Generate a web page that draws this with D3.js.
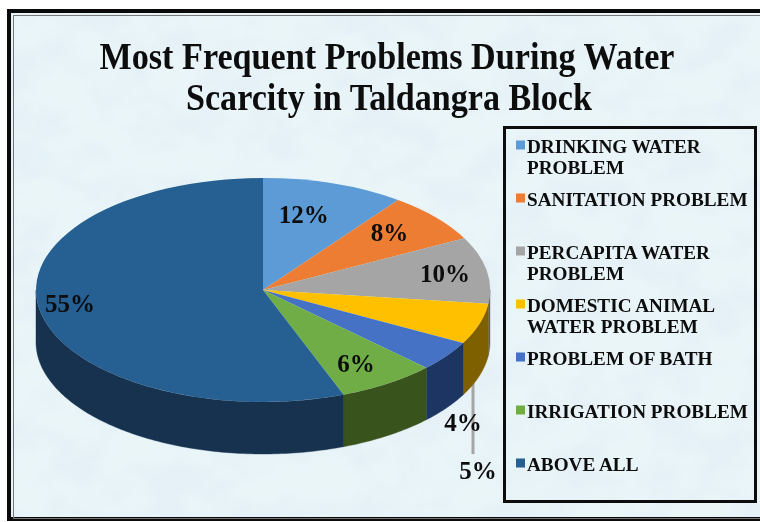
<!DOCTYPE html>
<html><head><meta charset="utf-8">
<script src="https://cdn.jsdelivr.net/npm/d3@7"></script>
<style>html,body{margin:0;padding:0;background:#fff}svg{display:block}text{font-family:"Liberation Serif",serif;fill:#0d0d0d}</style>
</head><body><svg id="c" width="760" height="522"></svg>
<script>
const titleLines = ["Most Frequent Problems During Water", "Scarcity in Taldangra Block"];
const categories = ["DRINKING WATER PROBLEM","SANITATION PROBLEM","PERCAPITA WATER PROBLEM","DOMESTIC ANIMAL WATER PROBLEM","PROBLEM OF BATH","IRRIGATION PROBLEM","ABOVE ALL"];
const legendLines = [["DRINKING WATER","PROBLEM"],["SANITATION PROBLEM"],["PERCAPITA WATER","PROBLEM"],["DOMESTIC ANIMAL","WATER PROBLEM"],["PROBLEM OF BATH"],["IRRIGATION PROBLEM"],["ABOVE ALL"]];
// Printed data labels
const labelValues = [12, 8, 10, 5, 4, 6, 55];
// Slice sizes as actually drawn in the picture (degrees of sweep read from the slice edges)
const drawnSweep = [36.5, 26, 34.5, 21.2, 15.8, 25.2, 200.8];
const colors = ["#5b9bd5","#ed7d31","#a5a5a5","#ffc000","#4472c4","#70ad47","#255e91"];
const rimColors = ["#2e5d85","#8a4a1c","#5f5f5f","#7f6000","#1f3564","#37521f","#14304f"];
const labelOffsets = [[-2,-11],[23,-13],[48,-4],[0,0],[90,93],[18,18],[-59,2]];

const W=760,H=522, cx=263, cy=290, rx=227, ry=112, depth=52;
const svg=d3.select("#c");
const defs=svg.append("defs");
const f=defs.append("filter").attr("id","tex").attr("x",0).attr("y",0).attr("width","100%").attr("height","100%");
f.append("feTurbulence").attr("type","fractalNoise").attr("baseFrequency","0.02 0.028").attr("numOctaves",4).attr("seed",7);
f.append("feColorMatrix").attr("type","matrix").attr("values","0 0 0 0 0.78  0 0 0 0 0.88  0 0 0 0 0.93  3.2 0 0 0 -1.25");
defs.append("filter").attr("id","soft").append("feGaussianBlur").attr("stdDeviation",0.45);

// frame and background
svg.append("rect").attr("width",W).attr("height",H).attr("fill","#fff");
svg.append("rect").attr("x",9).attr("y",11).attr("width",751).attr("height",508).attr("fill","#eaf5f8");
svg.append("rect").attr("x",9).attr("y",11).attr("width",751).attr("height",508).attr("filter","url(#tex)");
svg.append("rect").attr("x",9).attr("y",11).attr("width",760).attr("height",508).attr("fill","none").attr("stroke","#0a0a0a").attr("stroke-width",4);
svg.append("rect").attr("x",13.5).attr("y",15.5).attr("width",760).attr("height",503).attr("fill","none").attr("stroke","#777").attr("stroke-width",1);

const root=svg.append("g").attr("filter","url(#soft)");
const title=root.append("g");
titleLines.forEach((t,i)=>title.append("text").attr("x",i?389:387).attr("y",69+i*41).attr("text-anchor","middle").attr("font-size",37).attr("font-weight",700).attr("textLength",i?406:575).attr("lengthAdjust","spacingAndGlyphs").text(t));

// pie
const pie=d3.pie().sort(null).value(d=>d)(drawnSweep);
const ex=a=>cx+rx*Math.sin(a), ey=a=>cy-ry*Math.cos(a);

// leader line for the 5% label, running out from under the rim
const leadX=473, leadA=Math.PI-Math.asin((leadX-cx)/rx);
root.append("line").attr("x1",leadX).attr("x2",leadX).attr("y1",ey(leadA)+depth-7).attr("y2",454).attr("stroke","#a5a5a5").attr("stroke-width",3);

const rim=d3.area().x(a=>ex(a)).y0(a=>ey(a)).y1(a=>ey(a)+depth);
const pieG=root.append("g");
pie.forEach((p,i)=>{
  const a0=Math.max(p.startAngle,Math.PI/2), a1=Math.min(p.endAngle,3*Math.PI/2);
  if(a1<=a0) return;
  const n=Math.max(2,Math.ceil((a1-a0)*60));
  pieG.append("path").attr("d",rim(d3.range(n+1).map(k=>a0+(a1-a0)*k/n))).attr("fill",rimColors[i]).attr("stroke",rimColors[i]).attr("stroke-width",.4);
});
const arc=d3.arc().innerRadius(0).outerRadius(1);
const topFace=pieG.append("g").attr("transform",`translate(${cx},${cy}) scale(${rx},${ry})`);
topFace.selectAll("path").data(pie).join("path").attr("d",arc).attr("fill",(d,i)=>colors[i]);

// data labels
const lab=root.append("g");
pie.forEach((p,i)=>{
  const m=(p.startAngle+p.endAngle)/2;
  let x=cx+rx*.6*Math.sin(m)+labelOffsets[i][0], y=cy-ry*.6*Math.cos(m)+labelOffsets[i][1];
  if(i===3){x=478;y=471;}
  lab.append("text").attr("x",x).attr("y",y+8).attr("text-anchor","middle").attr("font-size",25).attr("font-weight",700).text(labelValues[i]+"%");
});

// legend
const lg=root.append("g");
lg.append("rect").attr("x",504.5).attr("y",127.5).attr("width",251).attr("height",374).attr("fill","none").attr("stroke","#0a0a0a").attr("stroke-width",3);
const markerY=d3.scalePoint().domain(categories).range([145,463]);
categories.forEach((c,i)=>{
  const my=markerY(c);
  lg.append("rect").attr("x",516).attr("y",my-4.5).attr("width",9).attr("height",9).attr("fill",colors[i]);
  legendLines[i].forEach((t,k)=>lg.append("text").attr("x",527).attr("y",my+7.5+k*21.5).attr("font-size",19.2).attr("font-weight",700).text(t));
});
</script></body></html>
